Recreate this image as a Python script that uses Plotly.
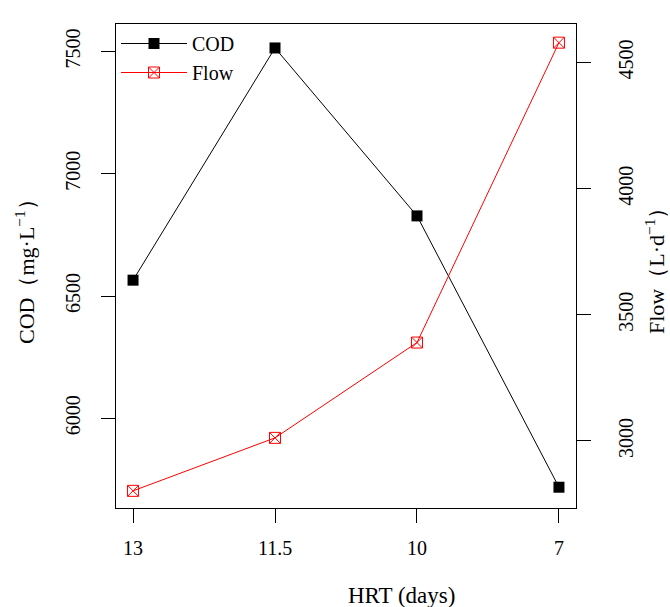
import plotly.graph_objects as go

hrt = ["13", "11.5", "10", "7"]
cod = [6565, 7515, 6828, 5718]
flow = [2802, 3012, 3390, 4579]
cod_ticks = [6000, 6500, 7000, 7500]
flow_ticks = [3000, 3500, 4000, 4500]

FONT = "Liberation Serif"

fig = go.Figure()
fig.add_trace(go.Scatter(
    x=hrt, y=cod, name="COD", mode="lines+markers",
    line=dict(color="black", width=1),
    marker=dict(symbol="square", size=11, color="black"),
    yaxis="y"))
fig.add_trace(go.Scatter(
    x=hrt, y=flow, name="Flow", mode="lines+markers",
    line=dict(color="red", width=1),
    marker=dict(symbol="square-x-open", size=11, color="red", line=dict(width=1, color="red")),
    yaxis="y2"))

fig.update_layout(
    width=670, height=607,
    margin=dict(l=116, r=94, t=24, b=99),
    paper_bgcolor="white", plot_bgcolor="white",
    font=dict(family=FONT, size=20, color="black"),
    showlegend=True,
    legend=dict(x=0.0, y=1.0, xanchor="left", yanchor="top",
                bgcolor="rgba(0,0,0,0)", font=dict(size=20, family=FONT),
                tracegroupgap=0, itemwidth=66),
    xaxis=dict(type="category", range=[-0.12, 3.12], showgrid=False,
               showline=True, mirror=True, linecolor="black", linewidth=1,
               ticks="outside", ticklen=14, tickcolor="black", tickwidth=1,
               ticklabelstandoff=8, zeroline=False),
    yaxis=dict(range=[5633, 7613], tickvals=cod_ticks, showgrid=False,
               showline=True, mirror=True, linecolor="black", linewidth=1,
               ticks="outside", ticklen=14, tickcolor="black", tickwidth=1,
               tickangle=-90, ticklabelstandoff=13, zeroline=False),
    yaxis2=dict(range=[2734, 4653], tickvals=flow_ticks, overlaying="y", side="right",
                showgrid=False, showline=False,
                ticks="outside", ticklen=14, tickcolor="black", tickwidth=1,
                tickangle=-90, ticklabelstandoff=18, zeroline=False),
    annotations=[
        dict(text="HRT (days)", xref="paper", yref="paper", x=0.6217, y=0.0, yshift=-87,
             showarrow=False, xanchor="center", yanchor="middle", font=dict(size=23)),
        dict(text="COD（mg·L<sup>−1</sup>）", xref="paper", yref="paper", x=0, xshift=-91, y=0.5,
             showarrow=False, textangle=-90, xanchor="center", yanchor="middle", font=dict(size=22)),
        dict(text="Flow（L·d<sup>−1</sup>）", xref="paper", yref="paper", x=1, xshift=79, y=0.5,
             showarrow=False, textangle=-90, xanchor="center", yanchor="middle", font=dict(size=22)),
    ],
)

fig.write_html("out.html", config={"displayModeBar": False},
               post_script="document.body.style.margin='0';document.body.style.overflow='hidden';")
